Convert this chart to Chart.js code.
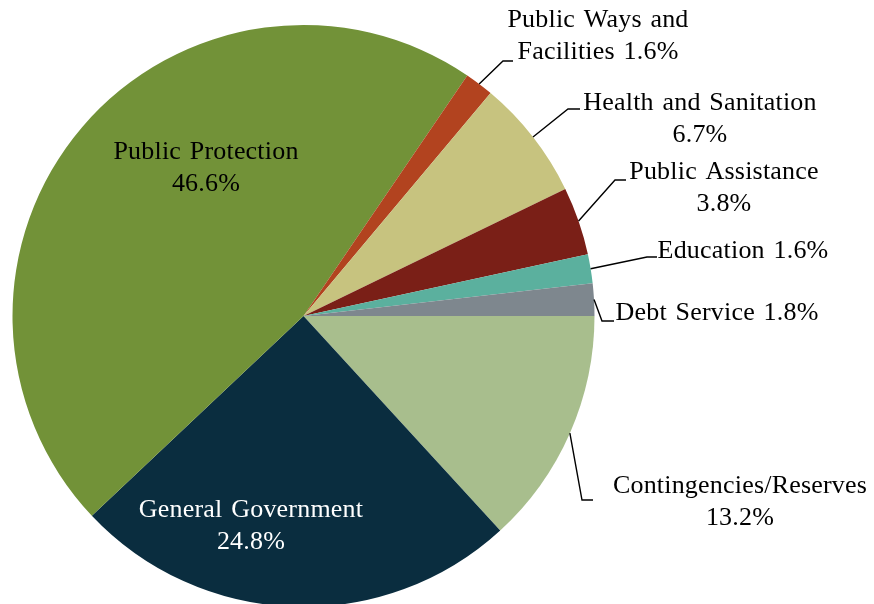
<!DOCTYPE html>
<html>
<head>
<meta charset="utf-8">
<script src="https://cdn.jsdelivr.net/npm/chart.js@4.4.1/dist/chart.umd.min.js"></script>
<style>
  html, body { margin: 0; padding: 0; background: #ffffff; overflow: hidden; }
  #wrap { position: relative; width: 874px; height: 632px; }
</style>
</head>
<body>
<div id="wrap"><canvas id="chart"></canvas></div>
<script>
// Budget shares by function (percent of total)
const categories = [
  'Contingencies/Reserves',
  'General Government',
  'Public Protection',
  'Public Ways and Facilities',
  'Health and Sanitation',
  'Public Assistance',
  'Education',
  'Debt Service'
];
const shares = [13.2, 24.8, 46.6, 1.6, 6.7, 3.8, 1.6, 1.8];
const sliceColors = ['#A8BE8D', '#0A2D3F', '#729238', '#B2431F', '#C7C37F', '#7A1F17', '#5BB09E', '#7E878E'];

// How each label breaks into lines; {v} stands for the slice's share
const labelLines = [
  ['Contingencies/Reserves', '{v}'],
  ['General Government', '{v}'],
  ['Public Protection', '{v}'],
  ['Public Ways and', 'Facilities {v}'],
  ['Health and Sanitation', '{v}'],
  ['Public Assistance', '{v}'],
  ['Education {v}'],
  ['Debt Service {v}']
];

// Label placement: text centre x, first baseline y, colour, leader elbow and end
const labelLayout = [
  { x: 740, y: 493, color: '#000', elbow: [582, 500], end: [593, 500] },
  { x: 251, y: 517, color: '#fff' },
  { x: 206, y: 159, color: '#000' },
  { x: 598, y: 27,  color: '#000', elbow: [503, 61],  end: [513, 61] },
  { x: 700, y: 110, color: '#000', elbow: [568, 109], end: [580, 109] },
  { x: 724, y: 179, color: '#000', elbow: [615, 180], end: [626, 180] },
  { x: 743, y: 258, color: '#000', elbow: [647, 257], end: [657, 257] },
  { x: 717, y: 320, color: '#000', elbow: [602, 321], end: [614, 321] }
];

const LINE_GAP = 32;

const sliceLabels = {
  id: 'sliceLabels',
  afterDatasetsDraw(chart) {
    const ctx = chart.ctx;
    const meta = chart.getDatasetMeta(0);
    const values = chart.data.datasets[0].data;
    ctx.save();
    ctx.font = '26px "Liberation Serif", "Times New Roman", serif';
    ctx.textAlign = 'center';
    ctx.textBaseline = 'alphabetic';
    if ('letterSpacing' in ctx) ctx.letterSpacing = '0.2px';
    if ('wordSpacing' in ctx) ctx.wordSpacing = '2px';
    meta.data.forEach((arc, i) => {
      const lay = labelLayout[i];
      const p = arc.getProps(['x', 'y', 'startAngle', 'endAngle', 'outerRadius'], true);
      if (lay.elbow) {
        const mid = (p.startAngle + p.endAngle) / 2;
        const sx = p.x + Math.cos(mid) * p.outerRadius;
        const sy = p.y + Math.sin(mid) * p.outerRadius;
        ctx.beginPath();
        ctx.strokeStyle = '#000';
        ctx.lineWidth = 1.4;
        ctx.moveTo(sx, sy);
        ctx.lineTo(lay.elbow[0], lay.elbow[1]);
        ctx.lineTo(lay.end[0], lay.end[1]);
        ctx.stroke();
      }
      ctx.fillStyle = lay.color;
      const v = values[i].toFixed(1) + '%';
      labelLines[i].forEach((t, k) => {
        ctx.fillText(t.replace('{v}', v), lay.x, lay.y + k * LINE_GAP);
      });
    });
    ctx.restore();
  }
};

new Chart(document.getElementById('chart'), {
  type: 'pie',
  data: {
    labels: categories,
    datasets: [{
      data: shares,
      backgroundColor: sliceColors,
      borderWidth: 0
    }]
  },
  options: {
    responsive: true,
    maintainAspectRatio: false,
    animation: false,
    devicePixelRatio: 1,
    rotation: 90,
    radius: 291,
    layout: { padding: { left: 12, right: 279, top: 25, bottom: 25 } },
    plugins: {
      legend: { display: false },
      tooltip: { enabled: false }
    }
  },
  plugins: [sliceLabels]
});
</script>
</body>
</html>
